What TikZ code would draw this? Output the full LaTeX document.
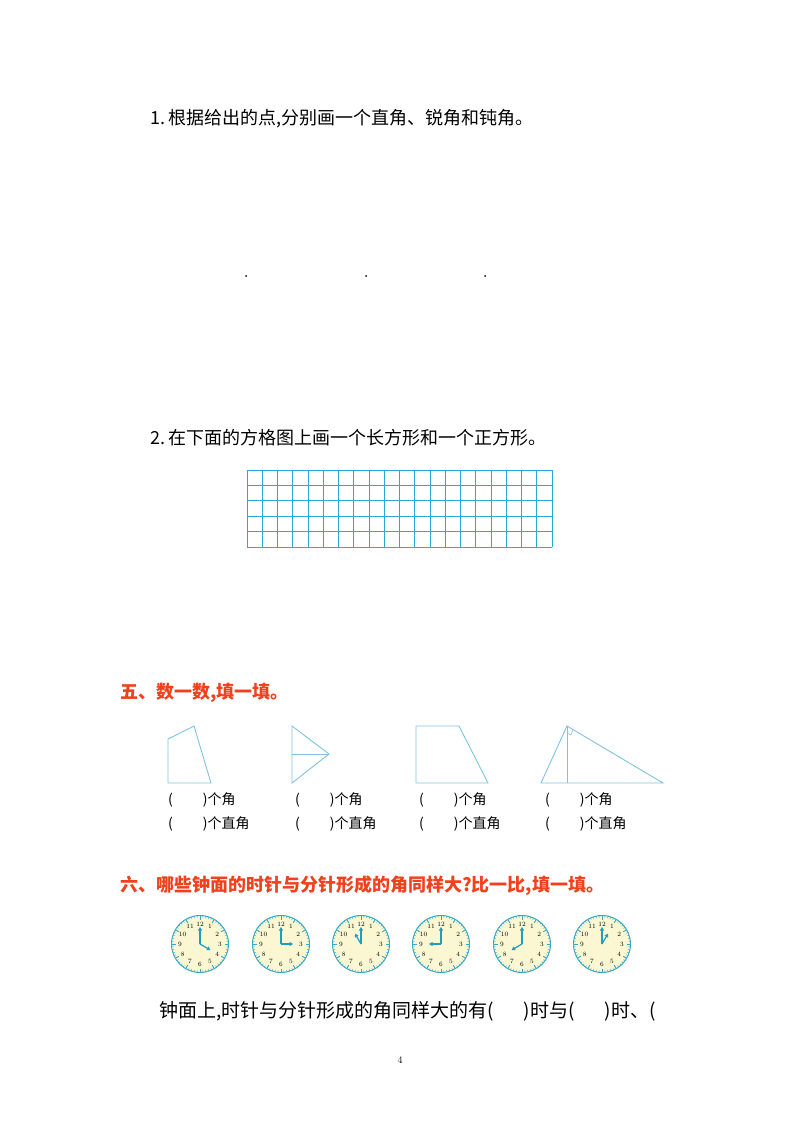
\documentclass[tikz,border=0pt]{standalone}
\usepackage{fontspec}
\newfontfamily\cjk{Noto Sans CJK SC}
\usetikzlibrary{arrows.meta}
\definecolor{shp}{HTML}{7EC3E0}
\definecolor{grd}{HTML}{2AA9D6}
\definecolor{hd}{HTML}{F0401C}
\definecolor{face}{HTML}{FBF7D2}
\definecolor{rim}{HTML}{3AA8C8}
\definecolor{hand}{HTML}{1E9EC0}
\tikzset{
  shape line/.style={draw=shp,line width=0.9pt,line join=miter},
  txt/.style={anchor=west,inner sep=0pt,font=\cjk\fontsize{18}{18}\selectfont},
  red head/.style={anchor=west,inner sep=0pt,text=hd,font=\cjk\bfseries\fontsize{18}{18}\selectfont},
  lbl/.style={anchor=west,inner sep=0pt,font=\cjk\fontsize{14}{14}\selectfont},
  num/.style={inner sep=0pt,font=\fontsize{6.5}{6.5}\selectfont},
  handarrow/.style={draw=hand,line width=1.2pt,-{Triangle[length=3.5pt,width=4pt]}}
}
\newcommand{\myclock}[3]{%
  \begin{scope}[shift={(#1,944)}]
    \node[circle,draw=rim,fill=face,line width=1pt,minimum size=57pt,inner sep=0pt] (#3) at (0,0) {};
    \foreach \k in {0,...,59}{\draw[rim,line width=0.4pt] ({26.5*sin(6*\k)},{-26.5*cos(6*\k)}) -- ({28.5*sin(6*\k)},{-28.5*cos(6*\k)});}
    \foreach \k in {0,5,...,55}{\draw[rim,line width=0.9pt] ({24.5*sin(6*\k)},{-24.5*cos(6*\k)}) -- ({28.5*sin(6*\k)},{-28.5*cos(6*\k)});}
    \foreach \n in {1,...,12}{\node[num] at ({20*sin(30*\n)},{-20*cos(30*\n)}) {\n};}
    \draw[handarrow] (0,0) -- (0,-17);
    \draw[handarrow] (0,0) -- ({12*sin(30*#2)},{-12*cos(30*#2)});
  \end{scope}}
\begin{document}
\begin{tikzpicture}[x=1pt,y=-1pt]
\useasboundingbox (0,0) rectangle (800,1132);
\node[txt] (h1) at (150,119) {1.\,根据给出的点,分别画一个直角、锐角和钝角。};
\foreach \x [count=\i] in {246,366,485}{\fill (\x,276) circle (1pt) coordinate (p\i);}
\node[txt] (h2) at (150,438) {2.\,在下面的方格图上画一个长方形和一个正方形。};
\begin{scope}[grd,line width=1pt]
  \foreach \i in {0,...,20}{\draw (247+15.25*\i,470) -- (247+15.25*\i,547);}
  \foreach \j in {0,...,5}{\draw (247,470+15.4*\j) -- (552,470+15.4*\j);}
\end{scope}
\node[red head] (h5) at (120,693) {五、数一数,填一填。};
\draw[shape line] (168,739) -- (194,726) -- (211,783) -- (168,783) -- cycle;
\draw[shape line] (292,726) -- (329,754) -- (292,783) -- cycle;
\draw[shape line] (292,754) -- (329,754);
\draw[shape line] (416,726) -- (459,726) -- (488,783) -- (416,783) -- cycle;
\draw[shape line] (567,726) -- (663,783) -- (541,783) -- cycle;
\draw[shape line] (567,726) -- (567,783);
\draw[shape line,line width=0.6pt] (567,733) -- (571,735) -- (573,729);
\foreach \x [count=\i] in {168,295,419,545}{
  \node[lbl] (a\i) at (\x,800) {(\hspace{30pt})个角};
  \node[lbl] (b\i) at (\x,824) {(\hspace{30pt})个直角};
}
\node[red head] (h6) at (120,886) {六、哪些钟面的时针与分针形成的角同样大?比一比,填一填。};
\myclock{200}{4}{c1}
\myclock{281}{3}{c2}
\myclock{361}{11}{c3}
\myclock{441}{9}{c4}
\myclock{522}{8}{c5}
\myclock{602}{1}{c6}
\node[txt,font=\cjk\fontsize{19}{19}\selectfont] (q) at (159,1011) {钟面上,时针与分针形成的角同样大的有(\hspace{30pt})时与(\hspace{30pt})时、(};
\node[inner sep=0pt,font=\fontsize{10}{10}\selectfont] (pg) at (400,1060) {4};
\end{tikzpicture}
\end{document}
